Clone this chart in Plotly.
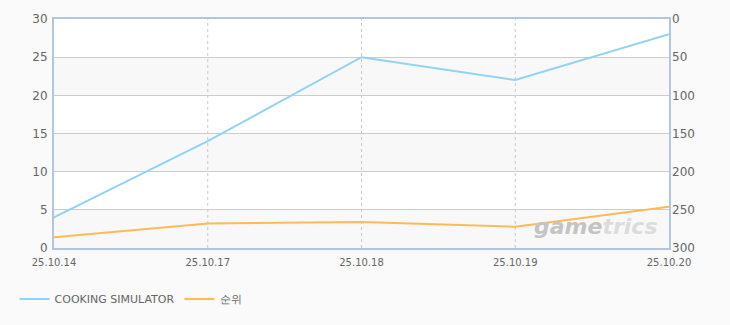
import plotly.graph_objects as go

dates = ["25.10.14", "25.10.17", "25.10.18", "25.10.19", "25.10.20"]
players = [4, 14, 25, 22, 28]
rank = [286, 268, 266, 272, 246]
left_ticks = [0, 5, 10, 15, 20, 25, 30]
right_ticks = [0, 50, 100, 150, 200, 250, 300]

FONT = "DejaVu Sans, Arial, sans-serif"
TXT = "#666666"

fig = go.Figure()
fig.add_trace(go.Scatter(x=dates, y=players, name="COOKING SIMULATOR", mode="lines",
                         line=dict(color="#92d2f2", width=2)))
fig.add_trace(go.Scatter(x=dates, y=rank, name="순위", mode="lines", yaxis="y2",
                         line=dict(color="#ffb957", width=2)))

# alternating bands
shapes = []
for i in range(len(left_ticks) - 1):
    if i % 2 == 0:
        shapes.append(dict(type="rect", xref="paper", yref="y", x0=0, x1=1,
                           y0=left_ticks[i], y1=left_ticks[i + 1],
                           fillcolor="#f8f8f8", line=dict(width=0), layer="below"))
# vertical dashed lines at inner categories
for d in dates[1:-1]:
    shapes.append(dict(type="line", xref="x", yref="paper", x0=d, x1=d, y0=0, y1=1,
                       line=dict(color="#c8c8c8", width=1, dash="3px,3px"), layer="below"))

fig.update_layout(
    width=730, height=325,
    margin=dict(l=54, r=61, t=17, b=77),
    paper_bgcolor="#fafafa", plot_bgcolor="#ffffff",
    font=dict(family=FONT, size=11, color=TXT),
    shapes=shapes,
    showlegend=True,
    legend=dict(orientation="h", x=0.02, xref="container", y=0.08, yref="container",
                yanchor="middle", xanchor="left", font=dict(size=11, color=TXT),
                bgcolor="rgba(0,0,0,0)", itemwidth=30, tracegroupgap=0),
    xaxis=dict(type="category", range=[0, len(dates) - 1], showgrid=False,
               showline=True, linecolor="#b3c6db", linewidth=2, mirror=True,
               ticks="", tickfont=dict(size=10, color=TXT), zeroline=False,
               ticklabelstandoff=4),
    yaxis=dict(range=[0, 30], tickvals=left_ticks, showgrid=True, gridcolor="#cccccc",
               gridwidth=1, showline=True, linecolor="#b3c6db", linewidth=2, mirror=True,
               ticks="", zeroline=False, tickfont=dict(size=12, color=TXT), ticklabelstandoff=2),
    yaxis2=dict(range=[300, 0], tickvals=right_ticks, overlaying="y", side="right",
                showgrid=False, showline=False, ticks="", zeroline=False,
                tickfont=dict(size=12, color=TXT), ticklabelstandoff=2),
    annotations=[dict(text="<b><i>game<span style='color:#dcdcdc'>trics</span></i></b>",
                      xref="paper", yref="paper", x=0.985, y=0.095, xanchor="right",
                      yanchor="middle",
                      showarrow=False, font=dict(size=22, color="#c4c4c4", family=FONT))],
)

fig.write_html("out.html")
